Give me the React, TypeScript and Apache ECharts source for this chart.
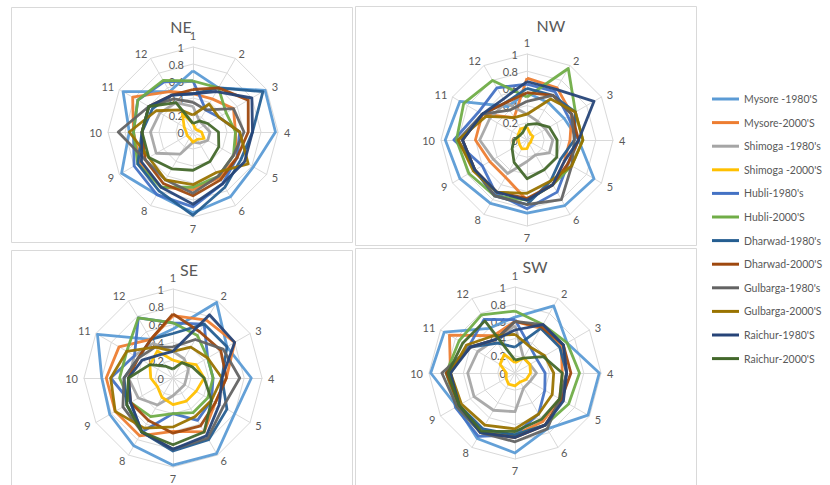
import React, { useEffect, useRef } from 'react';
import * as echarts from 'echarts';

const FONT = 'Lato, "Open Sans", sans-serif';

const AXES = ['1', '2', '3', '4', '5', '6', '7', '8', '9', '10', '11', '12'];
const REGIONS = ['NE', 'NW', 'SE', 'SW'];
const SERIES_NAMES = [
  "Mysore -1980'S", "Mysore-2000'S", "Shimoga -1980's", "Shimoga -2000'S",
  "Hubli-1980's", "Hubli-2000'S", "Dharwad-1980's", "Dharwad-2000'S",
  "Gulbarga-1980's", "Gulbarga-2000'S", "Raichur-1980'S", "Raichur-2000'S",
];
const COLORS = [
  '#5B9BD5', '#ED7D31', '#A5A5A5', '#FFC000', '#4472C4', '#70AD47',
  '#255E91', '#9E480E', '#636363', '#997300', '#264478', '#43682B',
];

// values per series, axes 1..12 clockwise
const NE = [
  [0.72, 0.6, 0.98, 0.97, 0.82, 0.88, 0.95, 0.85, 0.97, 0.75, 0.95, 0.55],
  [0.45, 0.45, 0.55, 0.5, 0.6, 0.62, 0.68, 0.75, 0.72, 0.7, 0.82, 0.55],
  [0.3, 0.15, 0.15, 0.2, 0.2, 0.15, 0.12, 0.3, 0.5, 0.5, 0.45, 0.4],
  [0.1, 0.05, 0.05, 0.1, 0.15, 0.1, 0.12, 0.08, 0.08, 0.08, 0.12, 0.25],
  [0.6, 0.3, 0.35, 0.55, 0.6, 0.7, 0.88, 0.85, 0.8, 0.7, 0.75, 0.68],
  [0.6, 0.6, 0.45, 0.5, 0.55, 0.6, 0.65, 0.75, 0.75, 0.7, 0.75, 0.7],
  [0.45, 0.6, 0.95, 0.7, 0.65, 0.75, 0.98, 0.8, 0.75, 0.6, 0.55, 0.5],
  [0.5, 0.6, 0.75, 0.65, 0.6, 0.65, 0.75, 0.7, 0.65, 0.6, 0.6, 0.5],
  [0.35, 0.3, 0.55, 0.6, 0.55, 0.6, 0.72, 0.65, 0.65, 0.88, 0.6, 0.45],
  [0.2, 0.38, 0.35, 0.55, 0.75, 0.55, 0.62, 0.65, 0.6, 0.75, 0.5, 0.3],
  [0.45, 0.55, 0.8, 0.7, 0.7, 0.7, 0.85, 0.75, 0.7, 0.6, 0.6, 0.5],
  [0.1, 0.15, 0.2, 0.3, 0.35, 0.4, 0.45, 0.5, 0.6, 0.6, 0.6, 0.4],
];
const NW = [
  [0.55, 0.5, 0.5, 0.6, 0.9, 0.88, 0.85, 0.85, 0.9, 0.95, 0.9, 0.45],
  [0.72, 0.7, 0.6, 0.5, 0.5, 0.6, 0.7, 0.5, 0.5, 0.6, 0.6, 0.3],
  [0.3, 0.25, 0.25, 0.3, 0.3, 0.2, 0.25, 0.45, 0.45, 0.55, 0.5, 0.5],
  [0.15, 0.08, 0.08, 0.05, 0.05, 0.05, 0.1, 0.12, 0.1, 0.1, 0.12, 0.15],
  [0.65, 0.65, 0.55, 0.6, 0.55, 0.7, 0.8, 0.72, 0.6, 0.85, 0.65, 0.7],
  [0.5, 0.96, 0.65, 0.65, 0.6, 0.6, 0.7, 0.75, 0.78, 0.82, 0.85, 0.8],
  [0.6, 0.6, 0.65, 0.55, 0.45, 0.55, 0.75, 0.75, 0.7, 0.75, 0.6, 0.5],
  [0.55, 0.6, 0.6, 0.6, 0.55, 0.6, 0.68, 0.7, 0.7, 0.75, 0.6, 0.5],
  [0.45, 0.6, 0.6, 0.55, 0.6, 0.8, 0.75, 0.75, 0.7, 0.8, 0.6, 0.4],
  [0.3, 0.55, 0.65, 0.65, 0.6, 0.55, 0.62, 0.7, 0.72, 0.8, 0.55, 0.3],
  [0.68, 0.68, 0.9, 0.6, 0.5, 0.6, 0.7, 0.7, 0.7, 0.75, 0.6, 0.55],
  [0.18, 0.22, 0.3, 0.35, 0.4, 0.4, 0.45, 0.3, 0.2, 0.15, 0.1, 0.1],
];
const SE = [
  [0.55, 0.98, 0.7, 0.88, 0.8, 0.98, 0.98, 0.88, 0.82, 0.8, 0.98, 0.5],
  [0.7, 0.75, 0.8, 0.6, 0.55, 0.7, 0.6, 0.75, 0.75, 0.75, 0.7, 0.5],
  [0.3, 0.25, 0.2, 0.15, 0.15, 0.15, 0.2, 0.35, 0.45, 0.5, 0.5, 0.45],
  [0.2, 0.2, 0.3, 0.35, 0.3, 0.3, 0.3, 0.25, 0.2, 0.25, 0.3, 0.35],
  [0.62, 0.7, 0.45, 0.45, 0.5, 0.55, 0.4, 0.7, 0.55, 0.7, 0.5, 0.78],
  [0.62, 0.55, 0.45, 0.45, 0.45, 0.45, 0.4, 0.5, 0.55, 0.6, 0.6, 0.78],
  [0.5, 0.7, 0.7, 0.55, 0.7, 0.8, 0.82, 0.7, 0.6, 0.55, 0.45, 0.5],
  [0.72, 0.6, 0.62, 0.6, 0.55, 0.62, 0.62, 0.55, 0.55, 0.5, 0.45, 0.5],
  [0.35, 0.5, 0.65, 0.75, 0.65, 0.78, 0.8, 0.7, 0.65, 0.55, 0.45, 0.4],
  [0.3, 0.4, 0.45, 0.55, 0.5, 0.5, 0.55, 0.65, 0.75, 0.7, 0.6, 0.4],
  [0.3, 0.82, 0.8, 0.55, 0.6, 0.75, 0.8, 0.7, 0.55, 0.5, 0.4, 0.3],
  [0.1, 0.2, 0.25, 0.35, 0.5, 0.7, 0.75, 0.7, 0.6, 0.5, 0.3, 0.15],
];
const SW = [
  [0.65, 0.9, 0.7, 0.98, 0.98, 0.75, 0.93, 0.88, 0.78, 0.98, 0.95, 0.6],
  [0.6, 0.6, 0.62, 0.55, 0.6, 0.65, 0.72, 0.8, 0.75, 0.75, 0.88, 0.5],
  [0.55, 0.2, 0.2, 0.25, 0.2, 0.2, 0.45, 0.5, 0.55, 0.55, 0.5, 0.45],
  [0.12, 0.2, 0.2, 0.18, 0.15, 0.12, 0.15, 0.15, 0.12, 0.1, 0.2, 0.25],
  [0.62, 0.35, 0.3, 0.35, 0.4, 0.55, 0.72, 0.85, 0.8, 0.75, 0.62, 0.72],
  [0.72, 0.65, 0.7, 0.75, 0.72, 0.7, 0.72, 0.8, 0.78, 0.8, 0.75, 0.78],
  [0.3, 0.6, 0.6, 0.6, 0.62, 0.7, 0.72, 0.75, 0.75, 0.78, 0.6, 0.4],
  [0.6, 0.62, 0.65, 0.65, 0.62, 0.7, 0.75, 0.8, 0.75, 0.8, 0.6, 0.45],
  [0.6, 0.65, 0.65, 0.6, 0.6, 0.75, 0.8, 0.8, 0.78, 0.85, 0.6, 0.45],
  [0.45, 0.35, 0.4, 0.45, 0.5, 0.55, 0.65, 0.7, 0.72, 0.75, 0.65, 0.5],
  [0.5, 0.65, 0.65, 0.6, 0.65, 0.7, 0.75, 0.8, 0.75, 0.75, 0.6, 0.45],
  [0.15, 0.2, 0.38, 0.55, 0.6, 0.62, 0.68, 0.78, 0.75, 0.78, 0.7, 0.7],
];
const REGION_VALUES = [NE, NW, SE, SW];

export default function App() {
  const ref = useRef<HTMLDivElement>(null);
  useEffect(() => {
    const chart = echarts.init(ref.current!, null, { renderer: 'svg' });
    // ECharts radar runs counter-clockwise; reorder to get Excel's clockwise layout
    const order = [0, 11, 10, 9, 8, 7, 6, 5, 4, 3, 2, 1];
    const layouts = [
      { center: [193, 132], radius: 85, title: [181, 18], box: [11.5, 7.5, 341, 235] },
      { center: [527, 140], radius: 86, title: [551, 17], box: [355.5, 6.5, 341, 239] },
      { center: [173, 378], radius: 89, title: [189, 261], box: [11.5, 250.5, 341, 240] },
      { center: [515, 373], radius: 86, title: [535, 258], box: [355.5, 248.5, 341, 242] },
    ];
    const radar = layouts.map((l) => ({
      center: l.center,
      radius: l.radius,
      startAngle: 90,
      shape: 'polygon',
      splitNumber: 5,
      nameGap: 6,
      indicator: order.map((i, k) => ({
        name: AXES[i],
        min: 0,
        max: 1,
        ...(k === 0 ? { axisLabel: { show: true } } : {}),
      })),
      axisName: { color: '#595959', fontSize: 11, fontFamily: FONT },
      axisLine: { lineStyle: { color: '#D9D9D9', width: 1 } },
      splitLine: { lineStyle: { color: '#D9D9D9', width: 1 } },
      splitArea: { show: false },
      axisTick: { show: false },
      axisLabel: { show: false, color: '#595959', fontSize: 11, fontFamily: FONT, margin: 9 },
    }));
    const series = REGION_VALUES.map((vals, r) => ({
      type: 'radar',
      radarIndex: r,
      symbol: 'none',
      data: vals.map((v, s) => ({
        name: SERIES_NAMES[s],
        value: order.map((i) => v[i]),
        lineStyle: { color: COLORS[s], width: 2.8, opacity: 0.95 },
        itemStyle: { color: COLORS[s] },
      })),
    }));
    chart.setOption({
      animation: false,
      backgroundColor: '#ffffff',
      title: REGIONS.map((t, i) => ({
        text: t,
        left: layouts[i].title[0],
        top: layouts[i].title[1],
        textAlign: 'center',
        padding: 0,
        textStyle: { fontSize: 16, fontWeight: 'normal', color: '#595959', fontFamily: FONT },
      })),
      legend: {
        orient: 'vertical',
        left: 712,
        top: 93,
        itemWidth: 27,
        itemHeight: 3,
        icon: 'rect',
        itemGap: 11.6,
        padding: 0,
        data: SERIES_NAMES,
        textStyle: { fontSize: 10.5, color: '#595959', fontFamily: FONT, lineHeight: 12 },
      },
      graphic: layouts.map((l) => ({
        type: 'rect',
        shape: { x: l.box[0], y: l.box[1], width: l.box[2], height: l.box[3] },
        style: { fill: 'none', stroke: '#D9D9D9', lineWidth: 1 },
        silent: true,
      })),
      radar,
      series,
    });
    return () => chart.dispose();
  }, []);
  return (
    <div
      ref={ref}
      style={{ position: 'absolute', left: 0, top: 0, width: 830, height: 485, background: '#fff' }}
    />
  );
}
